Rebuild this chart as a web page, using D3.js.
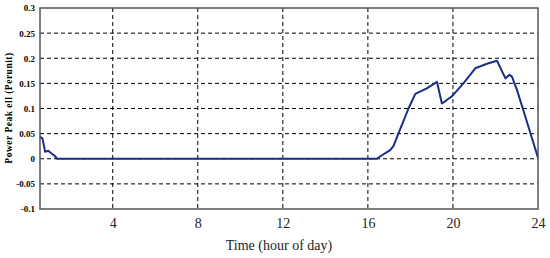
<!DOCTYPE html>
<html>
<head>
<meta charset="utf-8">
<script src="https://cdn.jsdelivr.net/npm/d3@7"></script>
<style>
  body { margin: 0; background: #fff; }
  svg { display: block; }
  .grid line { stroke: #000; stroke-width: 1; stroke-dasharray: 4,3; }
  .ax.y text { font-family: "Liberation Serif", "DejaVu Serif", serif; font-weight: bold; font-size: 9px; fill: #000; }
  .ax.x text { font-family: "Liberation Serif", "DejaVu Serif", serif; font-size: 14px; fill: #222; }
  .ax path, .ax line { display: none; }
</style>
</head>
<body>
<svg id="chart" width="550" height="258"></svg>
<script>
// data: hour of day and per-unit power
var hours = [0.58, 0.7, 0.82, 0.97, 1.08, 1.24, 1.39, 16.42, 16.66, 17.05, 17.2, 17.52, 17.91, 18.23, 18.77, 19.25,
  19.48, 19.63, 19.74, 19.95, 20.49, 21.05, 21.6, 22.07, 22.47, 22.66, 22.78, 23.01, 23.33, 24]
var power = [0.044, 0.04, 0.014, 0.016, 0.012, 0.007, 0, 0, 0.007, 0.017, 0.025, 0.059, 0.1, 0.129, 0.14, 0.153,
  0.11, 0.114, 0.118, 0.124, 0.15, 0.18, 0.189, 0.195, 0.16, 0.167, 0.163, 0.137, 0.094, 0.002]
var xTicks = [4, 8, 12, 16, 20, 24]
var yTicks = [-0.1, -0.05, 0, 0.05, 0.1, 0.15, 0.2, 0.25, 0.3]
var yLabels = ['-0.1', '-0.05', '0', '0.05', '0.1', '0.15', '0.2', '0.25', '0.3']

var svg = d3.select('#chart')
var margin = {top: 8, left: 40, right: 12, bottom: 49}
var w = 550 - margin.left - margin.right
var h = 258 - margin.top - margin.bottom

var g = svg.append('g').attr('transform', `translate(${margin.left},${margin.top})`)

var mapx = d3.scaleLinear().domain([0.58, 24]).range([0, w])
var mapy = d3.scaleLinear().domain([-0.1, 0.3]).range([h, 0])

// grid
var grid = g.append('g').classed('grid', true)
grid.selectAll('.gx')
  .data(xTicks.slice(0, -1))
  .enter().append('line')
  .attr('x1', d => mapx(d)).attr('x2', d => mapx(d))
  .attr('y1', 0).attr('y2', h)
grid.selectAll('.gy')
  .data(yTicks.slice(1, -1))
  .enter().append('line')
  .attr('x1', 0).attr('x2', w)
  .attr('y1', d => mapy(d)).attr('y2', d => mapy(d))

// curve
var line = d3.line().x((d, i) => mapx(hours[i])).y(d => mapy(d))
g.append('path')
  .datum(power)
  .attr('d', line)
  .attr('fill', 'none')
  .attr('stroke', '#1b2d8c')
  .attr('stroke-width', 2)
  .attr('stroke-linejoin', 'round')

// frame
g.append('rect')
  .attr('width', w).attr('height', h)
  .attr('fill', 'none')
  .attr('stroke', '#555')
  .attr('stroke-width', 1.5)

// axes
g.append('g').classed('ax x', true)
  .attr('transform', `translate(0,${h})`)
  .call(d3.axisBottom(mapx).tickValues(xTicks).tickSize(0).tickPadding(9))

g.append('g').classed('ax y', true)
  .call(d3.axisLeft(mapy).tickValues(yTicks).tickSize(0).tickPadding(5)
    .tickFormat((d, i) => yLabels[i]))

// titles
svg.append('text')
  .attr('x', margin.left + w / 2 - 10)
  .attr('y', 250)
  .attr('text-anchor', 'middle')
  .style('font-family', '"Liberation Serif", serif')
  .style('font-size', '14px')
  .style('fill', '#222')
  .text('Time (hour of day)')

svg.append('text')
  .attr('transform', 'translate(12,108) rotate(-90)')
  .attr('text-anchor', 'middle')
  .style('font-family', '"Liberation Serif", serif')
  .style('font-weight', 'bold')
  .style('font-size', '9.5px')
  .style('letter-spacing', '0.5px')
  .text('Power  Peak ell  (Perunit)')
</script>
</body>
</html>
